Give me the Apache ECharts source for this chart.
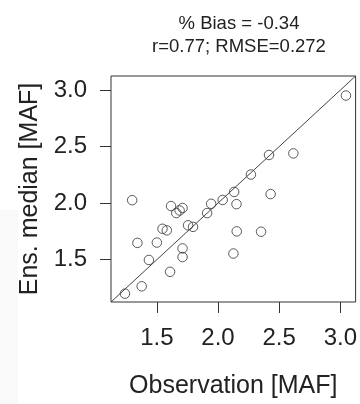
<!DOCTYPE html>
<html>
<head>
<meta charset="utf-8">
<script src="https://cdn.jsdelivr.net/npm/echarts@6/dist/echarts.min.js"></script>
<style>
html,body{margin:0;padding:0;background:#fff;}
#chart{width:360px;height:404px;}
</style>
</head>
<body>
<div id="chart"></div>
<script>
// Observation [MAF]
var observation = [3.046, 2.417, 2.616, 2.269, 2.132, 2.430, 2.038, 1.944, 2.151, 1.911,
                   1.298, 1.616, 1.710, 1.686, 1.659, 1.755, 1.796, 1.546, 1.581, 1.341,
                   1.500, 2.153, 2.352, 1.710, 1.710, 1.435, 2.126, 1.608, 1.376, 1.239];
// Ens. median [MAF]
var ensMedian   = [2.952, 2.426, 2.440, 2.253, 2.099, 2.080, 2.028, 1.994, 1.991, 1.912,
                   2.026, 1.974, 1.957, 1.935, 1.912, 1.804, 1.790, 1.773, 1.759, 1.648,
                   1.651, 1.750, 1.747, 1.599, 1.523, 1.497, 1.554, 1.392, 1.264, 1.199];
var tickValues = [1.5, 2.0, 2.5, 3.0];
var axisRange = [1.125, 3.125];
var titleLines = ['% Bias = -0.34', 'r=0.77; RMSE=0.272'];
var xName = 'Observation [MAF]';
var yName = 'Ens. median [MAF]';

var points = observation.map(function (v, i) { return [v, ensMedian[i]]; });
var oneToOne = [[axisRange[0], axisRange[0]], [axisRange[1], axisRange[1]]];

var font = 'Liberation Sans';
var ink = '#222';
function axisCfg(name, isX) {
  return {
    type: 'value',
    min: axisRange[0],
    max: axisRange[1],
    name: name,
    nameLocation: 'middle',
    nameGap: isX ? 72 : 66,
    nameTextStyle: {fontFamily: font, fontSize: 25, color: ink},
    axisLine: {show: false},
    splitLine: {show: false},
    axisTick: {show: true, inside: false, length: 11, customValues: tickValues,
               lineStyle: {color: '#333', width: 1}},
    axisLabel: {show: true, customValues: tickValues, margin: 24,
                fontFamily: font, fontSize: 24, color: ink,
                formatter: function (v) { return v.toFixed(1); }}
  };
}

var chart = echarts.init(document.getElementById('chart'), null, {renderer: 'canvas'});
chart.setOption({
  animation: false,
  backgroundColor: '#fff',
  graphic: [{type: 'rect', left: 0, top: 210, z: -10, shape: {width: 18, height: 194},
             style: {fill: '#f9f9f9'}}],
  title: {
    text: titleLines.join('\n'),
    left: 234, top: 7, textAlign: 'center',
    textStyle: {fontFamily: font, fontSize: 18.5, fontWeight: 'normal', color: ink, lineHeight: 23.5}
  },
  grid: {left: 111, top: 76, right: 2, bottom: 95, show: true, borderColor: '#333',
         borderWidth: 1, backgroundColor: 'transparent'},
  xAxis: axisCfg(xName, true),
  yAxis: axisCfg(yName, false),
  series: [
    {type: 'line', data: oneToOne, symbol: 'none', silent: true,
     lineStyle: {color: '#444', width: 1}},
    {type: 'scatter', data: points, symbol: 'circle', symbolSize: 9.5,
     itemStyle: {color: 'rgba(0,0,0,0)', borderColor: '#333', borderWidth: 1}}
  ]
});
</script>
</body>
</html>
